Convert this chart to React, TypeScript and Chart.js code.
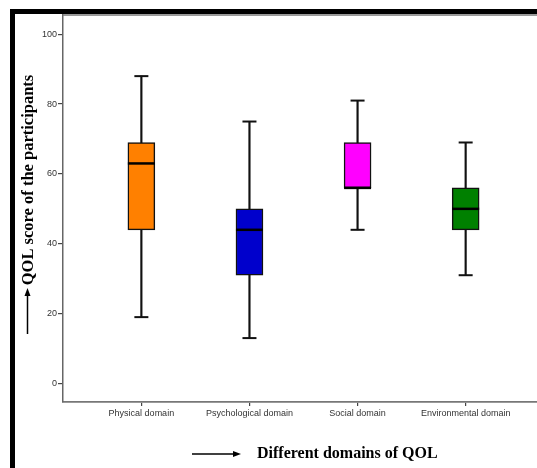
import React, { useEffect, useRef } from "react";
import { Chart, registerables } from "chart.js";

Chart.register(...registerables);

const categories = ["Physical domain", "Psychological domain", "Social domain", "Environmental domain"];
const minValues = [19, 13, 44, 31];
const q1Values = [44, 31, 56, 44];
const medianValues = [63, 44, 56, 50];
const q3Values = [69, 50, 69, 56];
const maxValues = [88, 75, 81, 69];
const boxColors = ["#FF8000", "#0000CC", "#FF00FF", "#008000"];
const yTicks = [0, 20, 40, 60, 80, 100];
const yTitle = "QOL score of the participants";
const xTitle = "Different domains of QOL";

const W = 537;
const H = 468;

const decorPlugin = {
  id: "decor",
  beforeDraw(chart: any) {
    const { ctx } = chart;
    ctx.save();
    ctx.fillStyle = "#ffffff";
    ctx.fillRect(0, 0, chart.width, chart.height);
    ctx.restore();
  },
  afterDraw(chart: any) {
    const { ctx, chartArea } = chart;
    ctx.save();
    // top frame line
    ctx.strokeStyle = "#777777";
    ctx.lineWidth = 1.5;
    ctx.beginPath();
    ctx.moveTo(chartArea.left, chartArea.top);
    ctx.lineTo(chart.width, chartArea.top);
    ctx.stroke();

    ctx.fillStyle = "#000000";
    ctx.strokeStyle = "#000000";

    // y title
    ctx.save();
    ctx.font = "bold 16.5px 'Liberation Serif', serif";
    ctx.translate(29, 180);
    ctx.rotate(-Math.PI / 2);
    ctx.textAlign = "center";
    ctx.textBaseline = "middle";
    ctx.fillText(yTitle, 0, 0);
    ctx.restore();

    // y arrow
    ctx.lineWidth = 1.5;
    ctx.beginPath();
    ctx.moveTo(27.5, 334);
    ctx.lineTo(27.5, 294);
    ctx.stroke();
    ctx.beginPath();
    ctx.moveTo(27.5, 288);
    ctx.lineTo(24.5, 296);
    ctx.lineTo(30.5, 296);
    ctx.closePath();
    ctx.fill();

    // x title
    ctx.font = "bold 16px 'Liberation Serif', serif";
    ctx.textAlign = "left";
    ctx.textBaseline = "middle";
    ctx.fillText(xTitle, 257, 454);

    // x arrow
    ctx.beginPath();
    ctx.moveTo(192, 454);
    ctx.lineTo(235, 454);
    ctx.stroke();
    ctx.beginPath();
    ctx.moveTo(241, 454);
    ctx.lineTo(233, 451);
    ctx.lineTo(233, 457);
    ctx.closePath();
    ctx.fill();

    ctx.restore();
  },
};

export default function App() {
  const ref = useRef<HTMLCanvasElement | null>(null);

  useEffect(() => {
    if (!ref.current) return;
    const idx = categories.map((_, i) => i);
    const chart = new Chart(ref.current, {
      type: "bar",
      data: {
        datasets: [
          {
            type: "bar",
            label: "whiskers",
            data: idx.map((i) => ({ x: i, y: [minValues[i], maxValues[i]] })) as any,
            backgroundColor: "#111111",
            borderWidth: 0,
            barThickness: 1.5,
            grouped: false,
            order: 3,
          } as any,
          {
            type: "bar",
            label: "boxes",
            data: idx.map((i) => ({ x: i, y: [q1Values[i], q3Values[i]] })) as any,
            backgroundColor: boxColors,
            borderColor: "#111111",
            borderWidth: 1.5,
            borderSkipped: false,
            barThickness: 27,
            grouped: false,
            order: 2,
          } as any,
          {
            type: "line",
            label: "median",
            data: idx.map((i) => ({ x: i, y: medianValues[i] })),
            showLine: false,
            pointStyle: "line",
            pointRadius: 13.5,
            pointBorderWidth: 2.5,
            pointBorderColor: "#000000",
            borderColor: "#000000",
            order: 1,
          } as any,
          {
            type: "line",
            label: "caps",
            data: idx
              .map((i) => ({ x: i, y: minValues[i] }))
              .concat(idx.map((i) => ({ x: i, y: maxValues[i] }))),
            showLine: false,
            pointStyle: "line",
            pointRadius: 7,
            pointBorderWidth: 2,
            pointBorderColor: "#111111",
            borderColor: "#111111",
            order: 1,
          } as any,
        ],
      },
      options: {
        responsive: false,
        maintainAspectRatio: false,
        animation: false,
        devicePixelRatio: 1,
        layout: { autoPadding: false, padding: { top: 15, left: 0, right: 0, bottom: 0 } },
        plugins: {
          legend: { display: false },
          tooltip: { enabled: false },
        },
        scales: {
          x: {
            type: "linear",
            offset: false,
            min: -0.725,
            max: 3.66,
            afterBuildTicks(scale: any) {
              scale.ticks = idx.map((v) => ({ value: v }));
            },
            afterFit(scale: any) {
              scale.height = H - 402;
              scale.paddingLeft = 0;
              scale.paddingRight = 0;
            },
            ticks: {
              autoSkip: false,
              maxRotation: 0,
              padding: 2,
              color: "#333333",
              font: { family: "'Liberation Sans', Arial, sans-serif", size: 9 },
              callback: (v: any) => categories[Math.round(Number(v))] ?? "",
            },
            grid: {
              display: true,
              offset: false,
              drawOnChartArea: false,
              drawTicks: true,
              tickLength: 4,
              color: "#444444",
              lineWidth: 1.2,
            },
            border: { display: true, color: "#777777", width: 1.8 },
          },
          y: {
            type: "linear",
            min: -5.3,
            max: 105.5,
            afterBuildTicks(scale: any) {
              scale.ticks = yTicks.map((v) => ({ value: v }));
            },
            afterFit(scale: any) {
              scale.width = 63;
              scale.paddingTop = 0;
              scale.paddingBottom = 0;
            },
            ticks: {
              padding: 1,
              color: "#333333",
              font: { family: "'Liberation Sans', Arial, sans-serif", size: 9 },
            },
            grid: {
              display: true,
              drawOnChartArea: false,
              drawTicks: true,
              tickLength: 5,
              color: "#444444",
              lineWidth: 1.2,
            },
            border: { display: true, color: "#666666", width: 1.5 },
          },
        },
      },
      plugins: [decorPlugin],
    } as any);
    return () => chart.destroy();
  }, []);

  return (
    <div style={{ position: "fixed", left: 0, top: 0, width: W, height: H, background: "#fff", overflow: "hidden" }}>
      <canvas ref={ref} width={W} height={H} style={{ position: "absolute", left: 0, top: 0, width: W, height: H }} />
      <div style={{ position: "absolute", left: 10, top: 9, width: 5, height: H - 9, background: "#000" }} />
      <div style={{ position: "absolute", left: 10, top: 9, width: W - 10, height: 5, background: "#000" }} />
    </div>
  );
}
